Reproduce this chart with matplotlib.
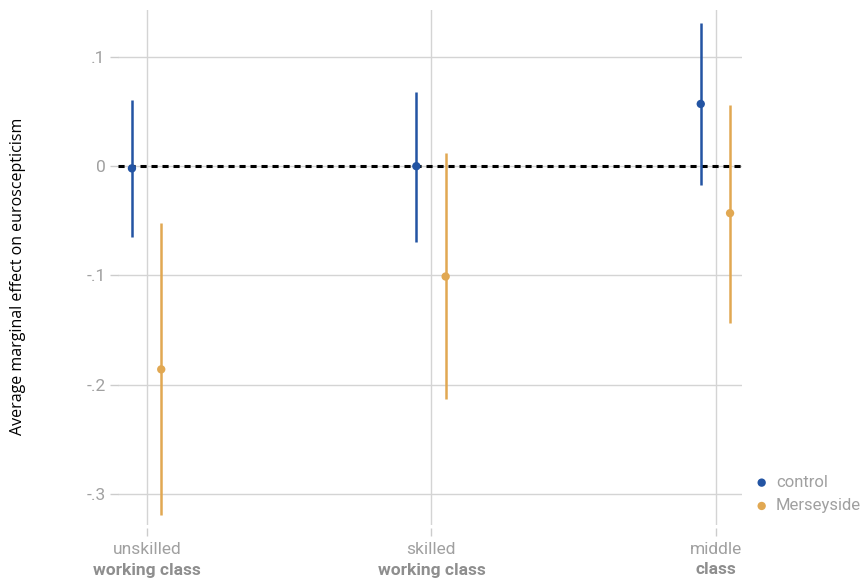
import matplotlib
matplotlib.use("Agg")
import matplotlib.pyplot as plt
import numpy as np

categories_top = ["unskilled", "skilled", "middle"]
categories_bottom = ["working class", "working class", "class"]
groups = ["control", "Merseyside"]
estimates = {
    "control":    [-0.002, 0.000, 0.057],
    "Merseyside": [-0.186, -0.101, -0.043],
}
ci_low = {
    "control":    [-0.065, -0.069, -0.017],
    "Merseyside": [-0.319, -0.213, -0.144],
}
ci_high = {
    "control":    [0.061, 0.068, 0.131],
    "Merseyside": [-0.052, 0.012, 0.056],
}
colors = {"control": "#2354A3", "Merseyside": "#E1A852"}
offsets = {"control": -0.053, "Merseyside": 0.05}
yticks = [0.1, 0.0, -0.1, -0.2, -0.3]
ytick_labels = [".1", "0", "-.1", "-.2", "-.3"]

fig = plt.figure(figsize=(8.66, 5.78), dpi=100)
ax = fig.add_axes([118/866, 53/578, 624/866, 515/578])

x = np.arange(1, len(categories_top) + 1)
for g in groups:
    xs = x + offsets[g]
    ax.vlines(xs, ci_low[g], ci_high[g], color=colors[g], lw=1.8, zorder=3)
    ax.scatter(xs, estimates[g], color=colors[g], s=36, zorder=4, label=g, edgecolors="none")

ax.axhline(0, color="black", lw=2.2, ls=(0, (2, 1.6)), zorder=2)

ax.set_xlim(0.898, 3.092)
ax.set_ylim(-0.3285, 0.143)
ax.set_yticks(yticks)
ax.set_yticklabels(ytick_labels)
ax.set_xticks(x)
ax.set_xticklabels(categories_top)

ax.grid(True, color="#d4d4d4", lw=1)
ax.set_axisbelow(True)
for s in ax.spines.values():
    s.set_visible(False)
ax.spines["bottom"].set_position(("outward", 2.5))
ax.tick_params(axis="both", color="#cccccc", width=1,
               labelcolor="#a0a0a0", labelsize=12.5)
ax.tick_params(axis="x", length=6, pad=3.5)
ax.tick_params(axis="y", length=6, pad=3)
for lab in ax.get_xticklabels() + ax.get_yticklabels():
    lab.set_fontfamily(["Roboto", "DejaVu Sans"])

for xi, b in zip(x, categories_bottom):
    ax.annotate(b, xy=(xi, 0), xycoords=("data", "axes fraction"),
                xytext=(0, -27), textcoords="offset points",
                ha="center", va="top", fontsize=12.5, fontweight="bold",
                color="#8e8e8e", family=["Roboto", "DejaVu Sans"],
                annotation_clip=False)

fig.text(18/866, 1 - 276/578, "Average marginal effect on euroscepticism",
         rotation=90, ha="center", va="center", fontsize=11.5,
         family=["Open Sans", "DejaVu Sans"], color="black")

leg = ax.legend(loc="upper left", bbox_to_anchor=(730/866, 1 - 460/578),
                bbox_transform=fig.transFigure, frameon=False,
                handletextpad=-0.15, labelspacing=0.5, markerscale=1.0,
                prop={"family": ["Roboto", "DejaVu Sans"], "size": 12})
for t in leg.get_texts():
    t.set_color("#a0a0a0")

fig.savefig("out.png", dpi=100)
